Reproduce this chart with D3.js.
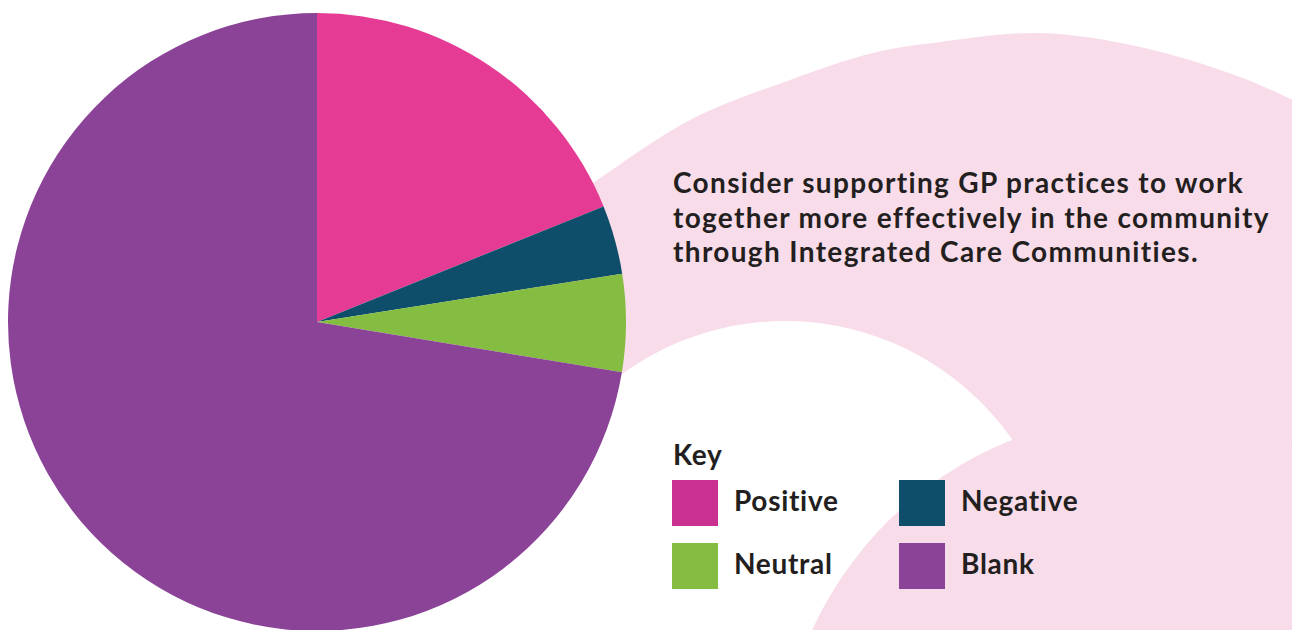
<!DOCTYPE html>
<html>
<head>
<meta charset="utf-8">
<script src="https://cdn.jsdelivr.net/npm/d3@7/dist/d3.min.js"></script>
<style>
  html, body { margin: 0; padding: 0; background: #ffffff; }
  svg { display: block; }
  text { font-family: Lato, "Open Sans", sans-serif; font-weight: 700; fill: #231f20; }
</style>
</head>
<body>
<svg id="chart" width="1292" height="630"></svg>
<script>
// Response categories and their shares (%)
const categories = ["Positive", "Negative", "Neutral", "Blank"];
const shares = [18.9, 3.6, 5.1, 72.4];
const sliceColors = ["#e63b94", "#0f4e6a", "#84bd41", "#8b4398"];
const keyColors = ["#c9308f", "#0f4e6a", "#84bd41", "#8b4398"];
const headline = [
  "Consider supporting GP practices to work",
  "together more effectively in the community",
  "through Integrated Care Communities."
];
const keyTitle = "Key";

const W = 1292, H = 630;
const svg = d3.select("#chart");

// ---- decorative pink swoosh behind the text ----
const band = "#f8dce9";
const swooshEdge = [[540, 218], [597, 180], [690, 120], [790, 80], [873, 53], [940, 42],
                    [1040, 33], [1140, 47], [1240, 77], [1310, 108]];
const edgePath = d3.line().curve(d3.curveCatmullRom.alpha(0.5))(swooshEdge);
svg.append("path")
  .attr("d", edgePath + `L1310,${H + 10}L540,${H + 10}Z`)
  .attr("fill", band);
// hollow of the swoosh
svg.append("circle").attr("cx", 785).attr("cy", 598).attr("r", 277).attr("fill", "#ffffff");
// curling tail of the swoosh
svg.append("circle").attr("cx", 1148).attr("cy", 783).attr("r", 369).attr("fill", band);

// ---- pie ----
const cx = 317, cy = 322, R = 309;
const pie = d3.pie().sort(null).value(d => d.v).startAngle(0).endAngle(2 * Math.PI);
const arc = d3.arc().innerRadius(0).outerRadius(R);
const color = d3.scaleOrdinal().domain(categories).range(sliceColors);
const data = categories.map((c, i) => ({ c, v: shares[i] }));

svg.append("g")
  .attr("transform", `translate(${cx},${cy})`)
  .selectAll("path")
  .data(pie(data))
  .join("path")
  .attr("d", arc)
  .attr("fill", d => color(d.data.c));

// ---- headline text ----
svg.append("text")
  .attr("x", 673).attr("y", 193)
  .style("font-size", "28px")
  .style("letter-spacing", "1.35px")
  .selectAll("tspan")
  .data(headline)
  .join("tspan")
  .attr("x", 673)
  .attr("dy", (d, i) => i === 0 ? 0 : 34.5)
  .text(d => d);

// ---- key ----
svg.append("text").attr("x", 673).attr("y", 465)
  .style("font-size", "28px").style("letter-spacing", "0.7px").text(keyTitle);

const keyColX = d3.scaleOrdinal().domain([0, 1]).range([672, 899]);
const keyRowY = d3.scaleOrdinal().domain([0, 1]).range([480, 543]);
const keyColor = d3.scaleOrdinal().domain(categories).range(keyColors);
const keyOrder = [["Positive", 0, 0], ["Negative", 1, 0], ["Neutral", 0, 1], ["Blank", 1, 1]];

const items = svg.append("g").selectAll("g")
  .data(keyOrder)
  .join("g")
  .attr("transform", d => `translate(${keyColX(d[1])},${keyRowY(d[2])})`);
items.append("rect").attr("width", 46).attr("height", 46).attr("fill", d => keyColor(d[0]));
items.append("text").attr("x", 62).attr("y", 31)
  .style("font-size", "28px").style("letter-spacing", "0.7px").text(d => d[0]);
</script>
</body>
</html>
